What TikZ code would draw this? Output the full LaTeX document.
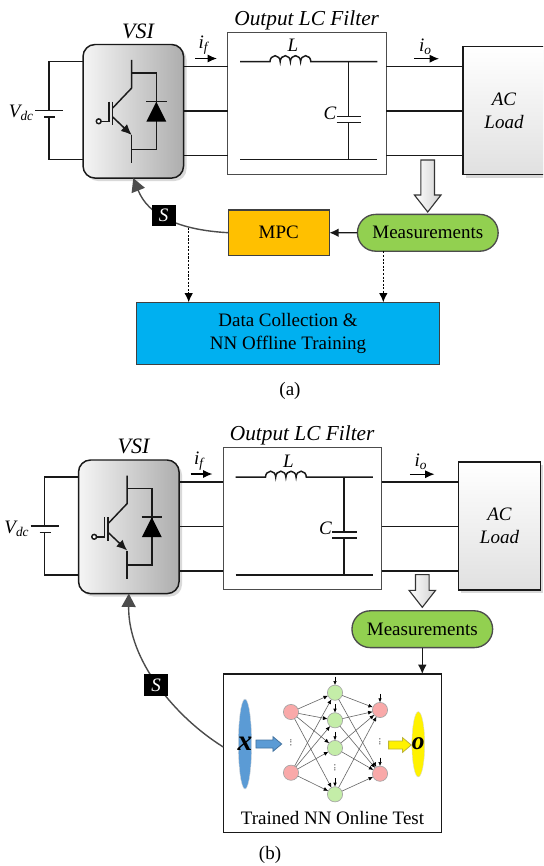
\documentclass[tikz,border=0pt]{standalone}
\usepackage{fontspec}
\setmainfont{Liberation Serif}
\usetikzlibrary{arrows.meta,calc,shadows,shapes.arrows,shapes.geometric}
\newcommand{\fs}[1]{\fontsize{#1}{#1}\selectfont}
\tikzset{
  x=0.75pt,y=-0.75pt,
  wire/.style={draw=black!90,line width=1.1pt},
  lbl/.style={inner sep=0pt,outer sep=0pt,font=\fs{14.25}\itshape},
  softshadow/.style={general shadow={fill=black,opacity=.15,shadow xshift=2.2pt,shadow yshift=-2.2pt}},
  vsibox/.style={draw=black!90,line width=1.1pt,rounded corners=9pt,left color=black!4,right color=black!32,
    minimum width=75.4pt,minimum height=100.2pt,inner sep=0pt,outer sep=0pt,softshadow},
  filterbox/.style={draw=black!70,line width=0.8pt,fill=white,minimum width=118.9pt,minimum height=106.3pt,inner sep=0pt,outer sep=0pt},
  loadbox/.style={draw=black!90,line width=1.1pt,top color=white,bottom color=black!12,minimum width=61.5pt,minimum height=96pt,
    inner sep=0pt,outer sep=0pt,softshadow,align=center,font=\fs{14.25}\itshape},
  flowarrow/.style={single arrow,shape border rotate=270,draw=black!80,line width=0.85pt,left color=white,right color=black!18,
    single arrow tip angle=76,single arrow head indent=0pt,single arrow head extend=4.8pt,inner sep=4.7pt,outer sep=0pt,anchor=tip},
  meas/.style={draw=black!70,line width=1pt,fill=meascol,rounded corners=13.7pt,minimum width=105.5pt,minimum height=27.6pt,
    inner sep=0pt,outer sep=0pt,font=\fs{14.25}},
  flat/.style={draw=black!75,line width=0.8pt,inner sep=0pt,outer sep=0pt,font=\fs{14.25},align=center},
  sbox/.style={fill=black,text=white,minimum width=18pt,minimum height=16pt,inner sep=0pt,outer sep=0pt,font=\fs{14.25}\itshape},
  sig/.style={draw=black!70,line width=1.05pt,-{Triangle[length=10pt,width=10.5pt]}},
  solidarrow/.style={draw=black!90,line width=1.1pt,-{Latex[length=7pt,width=6.5pt]}},
  dashedarrow/.style={draw=black,line width=1pt,dash pattern=on 1.6pt off 1.1pt,-{Latex[length=7pt,width=6.5pt,sep=0pt]}},
  currentarrow/.style={draw=black,line width=0.85pt,-{Latex[length=7pt,width=6pt]}},
  redn/.style={circle,draw=black!35,line width=0.5pt,fill=nnred,minimum size=11.4pt,inner sep=0pt,outer sep=0pt},
  greenn/.style={circle,draw=black!35,line width=0.5pt,fill=nngreen,minimum size=11.4pt,inner sep=0pt,outer sep=0pt},
  nnedge/.style={draw=black!60,line width=0.45pt,-{Latex[length=3.4pt,width=3pt,black]}},
  nntick/.style={draw=black,line width=0.45pt,-{Latex[length=3pt,width=2.6pt]}},
  dotsn/.style={inner sep=0pt,outer sep=0pt,font=\fs{7}},
  smallflow/.style={single arrow,line width=0.6pt,single arrow tip angle=80,single arrow head indent=0pt,single arrow head extend=2.5pt,inner sep=2.7pt,outer sep=0pt,anchor=tip}
}
\definecolor{meascol}{HTML}{92D050}
\definecolor{mpccol}{HTML}{FFC000}
\definecolor{datacol}{HTML}{00B0F0}
\definecolor{nnred}{HTML}{F9A9A9}
\definecolor{nngreen}{HTML}{C4EDA8}
\definecolor{blueell}{HTML}{5B9BD5}
\newcommand{\powerstage}[3]{%
\begin{scope}[shift={(#2,#3)}]
  % boxes
  \node[vsibox] (vsi#1) at (133.3,111.3) {};
  \node[filterbox] (filter#1) at (306.9,103.2) {};
  \node[loadbox] (load#1) at (504,110.7) {AC\\[3pt]Load};
  % labels
  \node[lbl,font=\fs{16.5}\itshape] (vsilab#1) at (138,31) {VSI};
  \node[lbl,font=\fs{16}\itshape] (filterlab#1) at (306.7,20) {Output LC Filter};
  \node[lbl] (vdc#1) at (21,113) {V\raisebox{-.35ex}{\fs{10}dc}};
  \node[lbl] (ifl#1) at (203,45.5) {i\raisebox{-.35ex}{\fs{10}f}};
  \node[lbl] (iol#1) at (425,46.5) {i\raisebox{-.35ex}{\fs{10}o}};
  \node[lbl] (llab#1) at (293,45.5) {L};
  \node[lbl] (clab#1) at (330,113) {C};
  % phase wires
  \foreach \k/\yy in {a/66.7,b/111,c/155.7}{
    \coordinate (w\k#1) at (0,\yy);
    \draw[wire] (vsi#1.east |- w\k#1) -- (filter#1.west |- w\k#1);
    \draw[wire] (filter#1.east |- w\k#1) -- (load#1.west |- w\k#1);
  }
  % current arrows
  \coordinate (ifs#1) at (195,58.5); \coordinate (ife#1) at (217,58.5);
  \coordinate (ios#1) at (414.3,58.7); \coordinate (ioe#1) at (439,58.7);
  \draw[currentarrow] (ifs#1) -- (ife#1);
  \draw[currentarrow] (ios#1) -- (ioe#1);
  % battery
  \coordinate (battop#1) at (49,110.7); \coordinate (batbot#1) at (49,117);
  \coordinate (vt#1) at (49,61.7); \coordinate (vb#1) at (49,159.7);
  \draw[wire,line join=miter] (vsi#1.west |- vt#1) -- (vt#1) -- (battop#1);
  \draw[wire,line join=miter] (vsi#1.west |- vb#1) -- (vb#1) -- (batbot#1);
  \draw[wire] (35,110.7) -- (63,110.7);
  \draw[wire] (44,117) -- (55,117);
  % IGBT and diode
  \draw[wire] (131.7,60) -- (131.7,88) -- (112.7,108);
  \draw[wire,line join=miter] (131.7,73) -- (156.3,73) -- (156.3,149.7) -- (131.7,149.7);
  \draw[wire] (131.7,135) -- (131.7,163.3);
  \draw[wire] (112.7,101.7) -- (112.7,125);
  \draw[wire] (109,101.7) -- (109,121.3) -- (101.2,121.3);
  \draw[wire,fill=white] (98.7,121.3) circle[radius=2.4];
  \draw[wire,-{Latex[length=8pt,width=7pt]}] (112.7,117) -- (131.7,135);
  \fill[black] (156.3,101.7) -- (166.3,121.7) -- (146.3,121.7) -- cycle;
  \draw[wire] (146,101.7) -- (166.5,101.7);
  % filter
  \draw[wire] (240,61.7) -- (270,61.7)
     arc[start angle=180,end angle=360,x radius=5.1,y radius=6]
     arc[start angle=180,end angle=360,x radius=5.1,y radius=6]
     arc[start angle=180,end angle=360,x radius=5.1,y radius=6]
     arc[start angle=180,end angle=360,x radius=5.1,y radius=6]
     -- (377.3,61.7);
  \draw[wire] (240,159.7) -- (377,159.7);
  \draw[wire] (348.7,61.7) -- (348.7,116.3);
  \draw[wire] (348.7,122.3) -- (348.7,159.7);
  \draw[wire] (336.7,116.3) -- (361,116.3);
  \draw[wire] (336.7,122.3) -- (361,122.3);
\end{scope}}
\begin{document}
\begin{tikzpicture}
\useasboundingbox (0,0) rectangle (543,866);
\clip (0,0) rectangle (543,866);
\fill[white] (0,0) rectangle (543,866);

%%% panel (a)
\powerstage{A}{0}{0}
\node[flowarrow,minimum height=39pt] (flowA) at (427.7,212) {};
\node[meas] (measA) at (427.8,232.8) {Measurements};
\node[flat,fill=mpccol,minimum width=75.8pt,minimum height=34pt] (mpc) at (278.8,232.7) {MPC};
\node[flat,fill=datacol,minimum width=227pt,minimum height=46.3pt] (data) at (288,333.2) {Data Collection \&\\[3pt]NN Offline Training};
\node[inner sep=0pt,font=\fs{14.25}] (capa) at (290,391) {(a)};
\draw[solidarrow] (measA) -- (mpc);
\coordinate (tapA) at (188.7,227.6);
\coordinate (tapB) at (383.3,251.3);
\draw[sig] (mpc.west) .. controls (178,230) and (148,215) .. (vsiA.south);
\draw[dashedarrow] (tapA) -- (tapA |- data.north);
\draw[dashedarrow] (tapB) -- (tapB |- data.north);
\node[sbox] (sa) at (163.7,215.5) {S};

%%% panel (b)
\powerstage{B}{-4.5}{415.5}
\node[flowarrow,minimum height=24.5pt] (flowB) at (422.3,607.3) {};
\node[meas] (measB) at (422.3,629.2) {Measurements};
\node[draw=black!90,line width=0.9pt,fill=white,minimum width=163.8pt,minimum height=118.7pt,inner sep=0pt,outer sep=0pt] (nn) at (332.5,753.2) {};
\node[inner sep=0pt,font=\fs{14.25}] (capb) at (270,855) {(b)};
\draw[solidarrow] (measB.south) -- (measB.south |- nn.north);
\coordinate (nnl) at (223.3,747);
\draw[sig] (nnl) .. controls (175,717) and (128,660) .. (vsiB.south);
\node[sbox] (sb) at (156.2,685) {S};

% network
\node[ellipse,fill=blueell,draw=black!15,line width=0.3pt,minimum width=10pt,minimum height=67.5pt,inner sep=0pt] (inell) at (245,744) {};
\node[ellipse,fill=yellow,draw=black!15,line width=0.3pt,minimum width=9.6pt,minimum height=49pt,inner sep=0pt] (outell) at (418.3,744.3) {};
\node[inner sep=0pt,font=\fs{22}\bfseries\itshape] (xl) at (245,744) {x};
\node[inner sep=0pt,font=\fs{19}\bfseries\itshape] (ol) at (418.3,744) {o};
\node[smallflow,draw=blueell!75!black,fill=blueell,minimum height=19.3pt] (inarrow) at (281.7,744) {};
\node[smallflow,draw=yellow!70!black,fill=yellow,minimum height=17pt] (outarrow) at (411.3,745) {};
\node[redn] (i1) at (291,712) {};
\node[redn] (i2) at (291,772.7) {};
\node[greenn] (h1) at (335,692.7) {};
\node[greenn] (h2) at (335,720.3) {};
\node[greenn] (h3) at (335,748) {};
\node[greenn] (h4) at (335,794.3) {};
\node[redn] (o1) at (380,710) {};
\node[redn] (o2) at (380,773.7) {};
\foreach \a in {i1,i2}\foreach \b in {h1,h2,h3,h4}{\draw[nnedge] (\a) -- (\b);}
\foreach \a in {h1,h2,h3,h4}\foreach \b in {o1,o2}{\draw[nnedge] (\a) -- (\b);}
\foreach \b in {h1,h2,h3,h4,o1,o2}{
  \coordinate (t\b) at ($(\b.north)+(0,-8.5)$);
  \draw[nntick] (t\b) -- (\b.north);
}
\node[dotsn,rotate=90] (d1) at (291,742.7) {...};
\node[dotsn,rotate=90] (d2) at (335,768) {...};
\node[dotsn,rotate=90] (d3) at (380,742) {...};
\node[inner sep=0pt,font=\fs{14.25}] (nnlab) at (332.5,818) {Trained NN Online Test};
\end{tikzpicture}
\end{document}
